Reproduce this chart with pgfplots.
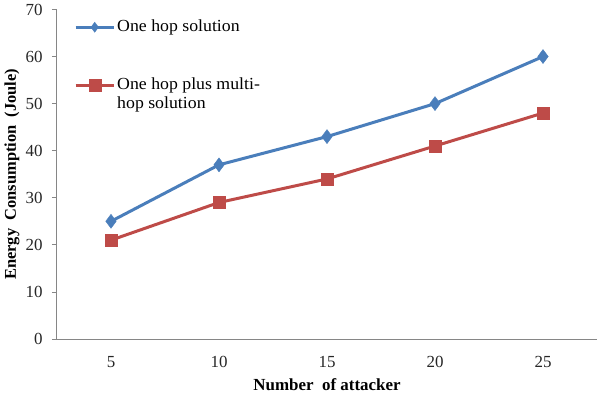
\documentclass[border=0pt]{standalone}
\usepackage{fontspec}
\setmainfont{Liberation Serif}
\newfontfamily\legfont{Liberation Serif}[FakeStretch=1.05]
\usepackage{pgfplots}
\pgfplotsset{compat=1.18}
\definecolor{serA}{HTML}{4A7EBB}
\definecolor{serB}{HTML}{BE4B48}
\definecolor{axgray}{HTML}{868686}
\begin{document}
\begin{tikzpicture}
\useasboundingbox (-57bp,-56bp) rectangle (543bp,339bp);
\begin{axis}[
  at={(0,0)}, anchor=south west,
  width=540bp, height=329.5bp, scale only axis,
  xmin=-0.5, xmax=4.5, ymin=0, ymax=70,
  ytick={0,10,...,70},
  xtick={0,1,2,3,4}, xticklabels={5,10,15,20,25},
  axis x line*=bottom, axis y line*=left,
  axis line style={axgray, line width=1bp},
  tick align=outside, major tick length=5bp,
  xtick style={draw=none},
  ytick style={axgray, line width=0.8bp},
  tick label style={font=\fontsize{17}{20}\selectfont, text=black!85},
  xticklabel style={anchor=center, yshift=-18bp},
  yticklabel style={xshift=-6bp},
  /pgf/number format/assume math mode=true,
  xlabel={\bfseries Number\ \ of attacker},
  ylabel={\bfseries Energy\ \ Consumption\ \ (Joule)},
  xlabel style={at={(axis description cs:0.5,-0.1396)}, anchor=center, font=\fontsize{17}{20}\selectfont},
  ylabel style={at={(axis description cs:-0.0833,0.5)}, anchor=center, font=\fontsize{16.5}{20}\selectfont},
  legend style={at={(axis description cs:0.026,0.982)}, anchor=north west, draw=none, fill=none,
    font=\legfont\fontsize{17}{20}\selectfont, row sep=0pt, column sep=2bp,
    nodes={inner sep=0pt, text height=13.5bp, text depth=5.8bp}},
  legend cell align=left,
  legend image code/.code={\draw[mark repeat=2,mark phase=2,#1] plot coordinates {(0bp,0bp) (19bp,0bp) (38bp,0bp)};},
]
\addplot[serA, line width=3bp, mark=diamond*, mark size=7bp, mark options={solid, line width=0.4bp}, forget plot]
  coordinates {(0,25) (1,37) (2,43) (3,50) (4,60)};
\addlegendimage{serA, line width=3bp, mark=diamond*, mark size=5bp, mark options={solid, line width=0.4bp}}
\addlegendentry{One hop solution}
\addlegendimage{empty legend}
\addlegendentry{\strut}
\addlegendimage{empty legend}
\addlegendentry{\strut}
\addplot[serB, line width=3bp, mark=square*, mark size=6bp, mark options={solid, line width=0.4bp}]
  coordinates {(0,21) (1,29) (2,34) (3,41) (4,48)};
\addlegendentry{One hop plus multi-}
\addlegendimage{empty legend}
\addlegendentry{hop solution}
\end{axis}
\end{tikzpicture}
\end{document}
